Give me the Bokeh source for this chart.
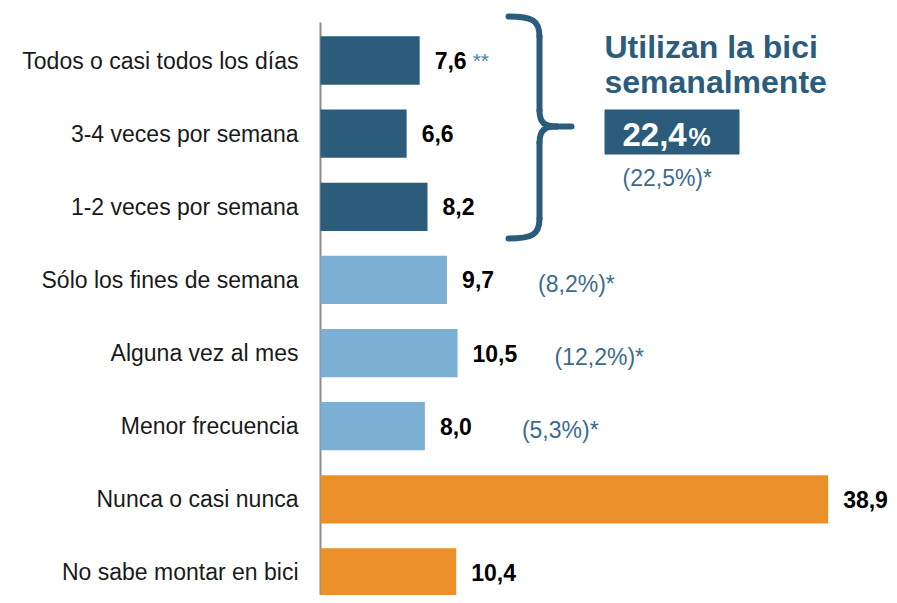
from bokeh.plotting import figure
from bokeh.models import Range1d, FixedTicker
from bokeh.core.properties import value
from bokeh.embed import file_html
from bokeh.resources import INLINE

# ---------------- data ----------------
categories = [
    "Todos o casi todos los días",
    "3-4 veces por semana",
    "1-2 veces por semana",
    "Sólo los fines de semana",
    "Alguna vez al mes",
    "Menor frecuencia",
    "Nunca o casi nunca",
    "No sabe montar en bici",
]
values = [7.6, 6.6, 8.2, 9.7, 10.5, 8.0, 38.9, 10.4]
groups = ["semanal", "semanal", "semanal", "ocasional", "ocasional", "ocasional", "no", "no"]
notes = ["**", "", "", "", "", "", "", ""]
previous = ["", "", "", "(8,2%)*", "(12,2%)*", "(5,3%)*", "", ""]
previous_weekly = "(22,5%)*"
title_lines = ["Utilizan la bici", "semanalmente"]

# ---------------- styles ----------------
DARK = "#2C5C7C"
LIGHT = "#7BAFD4"
ORANGE = "#EB8F29"
NOTE_BLUE = "#3C6A8E"
group_colors = {"semanal": DARK, "ocasional": LIGHT, "no": ORANGE}
FONT = "Liberation Sans"

idx = list(range(len(categories)))
fmt = lambda v: f"{v:.1f}".replace(".", ",")
labels = [fmt(v) for v in values]
colors = [group_colors[g] for g in groups]
weekly_total = fmt(sum(v for v, g in zip(values, groups) if g == "semanal"))

W, H = 889, 595
LEFT = 318
PX_X = 13.05
X0 = -2 / PX_X
X1 = X0 + (W - LEFT) / PX_X
Y_TOP = -60 / 73.14
Y_BOT = Y_TOP + H / 73.14

p = figure(width=W, height=H, output_backend="svg", toolbar_location=None,
           x_range=Range1d(X0, X1), y_range=Range1d(Y_BOT, Y_TOP),
           min_border_left=LEFT, min_border_right=0, min_border_top=0, min_border_bottom=0)
p.outline_line_color = None
p.grid.visible = False
p.xaxis.visible = False
p.background_fill_color = "white"

# pixel -> data helpers for decorative annotations (figure coords)
px_per_x = (W - LEFT) / (X1 - X0)
px_per_y = H / (Y_BOT - Y_TOP)
def X(px):
    return X0 + (px - LEFT) / px_per_x
def Y(py):
    return Y_TOP + py / px_per_y

yax = p.yaxis[0]
yax.ticker = FixedTicker(ticks=idx)
yax.major_label_overrides = {i: c for i, c in zip(idx, categories)}
yax.axis_line_color = None
yax.major_tick_line_color = None
yax.major_tick_out = 0
yax.major_tick_in = 0
yax.minor_tick_line_color = None
yax.major_label_standoff = 20
yax.major_label_text_font = FONT
yax.major_label_text_font_size = "23px"
yax.major_label_text_color = "#1a1a1a"

# axis line
p.segment(x0=[0], y0=[Y(22)], x1=[0], y1=[Y_BOT], line_color="#8c8c8c", line_width=2)

# bars
p.hbar(y=idx, left=0, right=values, height=0.66, fill_color=colors, line_color=None)

# value labels
p.text(x=values, y=idx, text=labels, x_offset=15, text_baseline="middle", text_align="left",
       text_font=value(FONT), text_font_style="bold", text_font_size="23px", text_color="black")
# notes (**)
p.text(x=values, y=idx, text=notes, x_offset=53, text_baseline="middle",
       text_align="left", text_font=value(FONT), text_font_size="21px", text_color="#4F7FA6")

# previous-year values
prev_offsets = [0, 0, 0, 91, 97, 97, 0, 0]
p.text(x=values, y=[i + 0.05 for i in idx], text=previous, x_offset=prev_offsets,
       text_baseline="middle", text_align="left", text_font=value(FONT),
       text_font_size="23px", text_color=NOTE_BLUE)

# brace
bx = 539
br = dict(line_color=DARK, line_width=6, line_cap="round")
p.bezier(x0=[X(508)], y0=[Y(16)], x1=[X(bx)], y1=[Y(36)], cx0=[X(532)], cy0=[Y(16)], cx1=[X(bx)], cy1=[Y(20)], **br)
p.segment(x0=[X(bx)], y0=[Y(36)], x1=[X(bx)], y1=[Y(110)], **br)
p.bezier(x0=[X(bx)], y0=[Y(110)], x1=[X(556)], y1=[Y(126)], cx0=[X(bx)], cy0=[Y(123)], cx1=[X(545)], cy1=[Y(126)], **br)
p.segment(x0=[X(556)], y0=[Y(126)], x1=[X(571)], y1=[Y(126)], **br)
p.bezier(x0=[X(556)], y0=[Y(126)], x1=[X(bx)], y1=[Y(142)], cx0=[X(545)], cy0=[Y(126)], cx1=[X(bx)], cy1=[Y(129)], **br)
p.segment(x0=[X(bx)], y0=[Y(142)], x1=[X(bx)], y1=[Y(218)], **br)
p.bezier(x0=[X(bx)], y0=[Y(218)], x1=[X(508)], y1=[Y(238)], cx0=[X(bx)], cy0=[Y(234)], cx1=[X(532)], cy1=[Y(238)], **br)

# title block
p.text(x=[X(604), X(604)], y=[Y(46), Y(81)], text=title_lines, text_baseline="middle",
       text_align="left", text_font=value(FONT), text_font_style="bold",
       text_font_size="32px", text_color=DARK)
p.quad(left=[X(604)], right=[X(739)], top=[Y(109)], bottom=[Y(154)], fill_color=DARK, line_color=None)
p.text(x=[X(622)], y=[Y(134)], text=[weekly_total], text_baseline="middle", text_align="left",
       text_font=value(FONT), text_font_style="bold", text_font_size="33px", text_color="white")
p.text(x=[X(688)], y=[Y(136)], text=["%"], text_baseline="middle", text_align="left",
       text_font=value(FONT), text_font_style="bold", text_font_size="25px", text_color="white")
p.text(x=[X(622)], y=[Y(177)], text=[previous_weekly], text_baseline="middle", text_align="left",
       text_font=value(FONT), text_font_size="23px", text_color=NOTE_BLUE)

open("out.html", "w").write(file_html(p, INLINE))
